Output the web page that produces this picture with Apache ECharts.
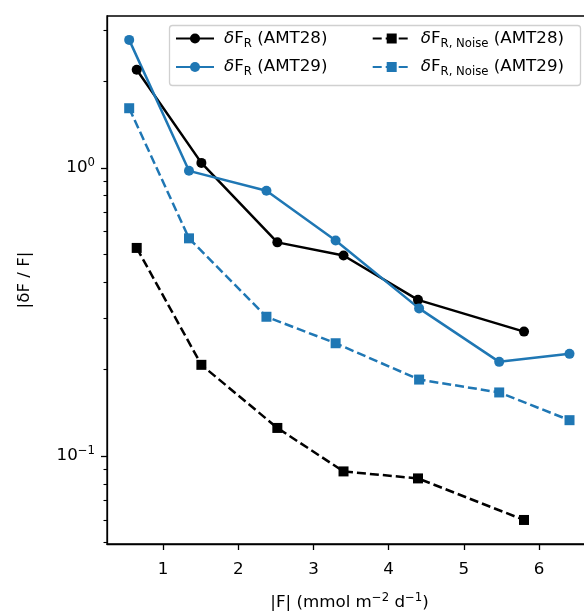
<!DOCTYPE html>
<html>
<head>
<meta charset="utf-8">
<script src="https://cdn.jsdelivr.net/npm/echarts@6/dist/echarts.min.js"></script>
<style>
  html, body { margin: 0; padding: 0; background: #fff; }
  #chart { width: 584px; height: 615px; }
</style>
</head>
<body>
<div id="chart"></div>
<script>
// |F| in mmol m-2 d-1
const fluxAmt28 = [0.65, 1.51, 2.52, 3.40, 4.39, 5.80];
const relErrAmt28 = [2.19, 1.04, 0.551, 0.496, 0.348, 0.270];
const noiseAmt28 = [0.527, 0.207, 0.125, 0.0883, 0.0835, 0.0599];

const fluxAmt29 = [0.55, 1.345, 2.375, 3.295, 4.405, 5.47, 6.405];
const relErrAmt29 = [2.78, 0.976, 0.832, 0.559, 0.325, 0.212, 0.226];
const noiseAmt29 = [1.61, 0.569, 0.304, 0.246, 0.184, 0.166, 0.133];

const xTicks = [1, 2, 3, 4, 5, 6];
const yMajorTicks = [0.1, 1];
const yMinorTicks = [0.05, 0.06, 0.07, 0.08, 0.09, 0.2, 0.3, 0.4, 0.5, 0.6, 0.7, 0.8, 0.9, 2, 3];

const FONT = "DejaVu Sans";
const FS = 16.7;
const BLUE = "#1f77b4";
const BLACK = "#000000";

const zip = (xs, ys) => xs.map((x, i) => [x, ys[i]]);

function makeSeries(name, xs, ys, color, symbol, dashed) {
  return {
    type: "line",
    name: name,
    data: zip(xs, ys),
    symbol: symbol,
    symbolSize: 10,
    showSymbol: true,
    itemStyle: { color: color, borderWidth: 0 },
    lineStyle: { color: color, width: 2.5, type: dashed ? [9, 4] : "solid" },
    emphasis: { disabled: true },
  };
}

const series = [
  makeSeries("δF_R (AMT28)", fluxAmt28, relErrAmt28, BLACK, "circle", false),
  makeSeries("δF_R (AMT29)", fluxAmt29, relErrAmt29, BLUE, "circle", false),
  makeSeries("δF_R, Noise (AMT28)", fluxAmt28, noiseAmt28, BLACK, "rect", true),
  makeSeries("δF_R, Noise (AMT29)", fluxAmt29, noiseAmt29, BLUE, "rect", true),
];

const legendRich = {
  d: { fontFamily: FONT, fontSize: FS, fontStyle: "italic", lineHeight: 22, padding: [0, 0, 0, 5], color: BLACK },
  t: { fontFamily: FONT, fontSize: FS, lineHeight: 22, color: BLACK },
  s: { fontFamily: FONT, fontSize: 11.7, lineHeight: 13, verticalAlign: "bottom", color: BLACK },
};

function legendLabel(name) {
  const m = name.match(/^δF_(.+) \((.+)\)$/);
  return "{d|δ}{t|F}{s|" + m[1] + "}{t| (" + m[2] + ")}";
}

function makeLegend(names, left) {
  return {
    data: names,
    orient: "vertical",
    left: left,
    top: 30,
    padding: 0,
    itemGap: 9,
    itemWidth: 38,
    itemHeight: 12.5,
    selectedMode: false,
    formatter: legendLabel,
    textStyle: { fontFamily: FONT, fontSize: FS, color: BLACK, rich: legendRich },
  };
}

const chart = echarts.init(document.getElementById("chart"));

chart.setOption({
  animation: false,
  backgroundColor: "#fff",
  grid: {
    left: 107,
    top: 16,
    width: 485,
    height: 528,
    containLabel: false,
    outerBoundsMode: "none",
    show: true,
    borderColor: BLACK,
    borderWidth: 1.3,
    backgroundColor: "transparent",
  },
  graphic: [
    {
      type: "rect",
      z: 3,
      shape: { x: 169.5, y: 25.5, width: 411, height: 60, r: 3 },
      style: { fill: "rgba(255,255,255,0.8)", stroke: "#d0d0d0", lineWidth: 1.3 },
    },
  ],
  legend: [
    makeLegend([series[0].name, series[1].name], 175),
    makeLegend([series[2].name, series[3].name], 371.7),
  ],
  xAxis: {
    type: "value",
    min: 0.255,
    max: 6.704,
    name: "|F| (mmol m{p|−2} d{p|−1})",
    nameLocation: "middle",
    nameGap: 48,
    nameTextStyle: {
      fontFamily: FONT,
      fontSize: FS,
      color: BLACK,
      lineHeight: 22,
      rich: {
        p: { fontFamily: FONT, fontSize: 11.7, lineHeight: 12, verticalAlign: "top", color: BLACK },
      },
    },
    axisLine: { show: true, lineStyle: { color: BLACK, width: 1.3 } },
    axisTick: { show: true, customValues: xTicks, length: 6, lineStyle: { color: BLACK, width: 1.3 } },
    axisLabel: {
      customValues: xTicks,
      margin: 17,
      fontFamily: FONT,
      fontSize: FS,
      color: BLACK,
    },
    splitLine: { show: false },
  },
  yAxis: [
    {
      type: "log",
      logBase: 10,
      min: 0.04943,
      max: 3.365,
      name: "|δF / F|",
      nameLocation: "middle",
      nameGap: 74,
      nameTextStyle: { fontFamily: FONT, fontSize: FS, color: BLACK },
      axisLine: { show: true, lineStyle: { color: BLACK, width: 1.3 } },
      axisTick: { show: true, customValues: yMajorTicks, length: 6, lineStyle: { color: BLACK, width: 1.3 } },
      axisLabel: {
        customValues: yMajorTicks,
        margin: 12,
        fontFamily: FONT,
        fontSize: FS,
        color: BLACK,
        formatter: (v) => "{b|10}{p|" + (v >= 1 ? "0" : "−1") + "}",
        rich: {
          b: { fontFamily: FONT, fontSize: FS, lineHeight: 22, color: BLACK },
          p: { fontFamily: FONT, fontSize: 11.7, lineHeight: 12, verticalAlign: "top", color: BLACK },
        },
      },
      splitLine: { show: false },
    },
    {
      type: "log",
      logBase: 10,
      min: 0.04943,
      max: 3.365,
      position: "left",
      axisLine: { show: false },
      axisTick: { show: true, customValues: yMinorTicks, length: 3.5, lineStyle: { color: BLACK, width: 1.1 } },
      axisLabel: { show: false },
      splitLine: { show: false },
    },
  ],
  series: series,
});
</script>
</body>
</html>
